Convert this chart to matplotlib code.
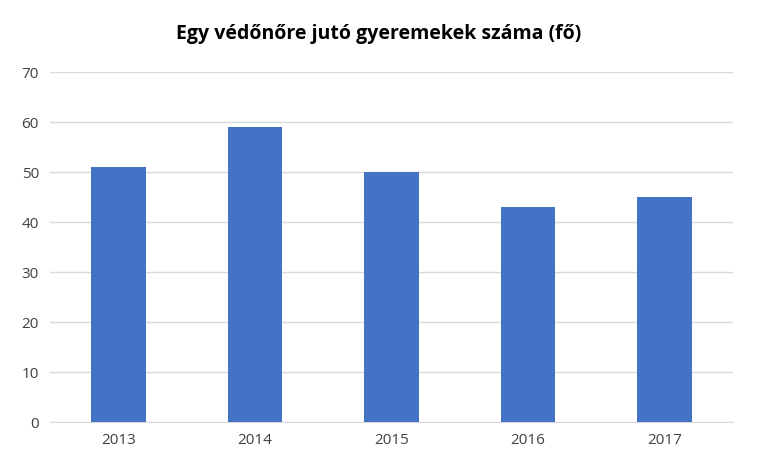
import matplotlib
matplotlib.use("Agg")
import matplotlib.pyplot as plt

years = ["2013", "2014", "2015", "2016", "2017"]
values = [51, 59, 50, 43, 45]
yticks = [0, 10, 20, 30, 40, 50, 60, 70]

plt.rcParams['font.family'] = ['Open Sans', 'DejaVu Sans']
fig = plt.figure(figsize=(7.57, 4.75), dpi=100)
ax = fig.add_axes([50/757, 1-422/475, 683/757, 350/475])
x = range(len(years))
ax.bar(x, values, width=0.4, color="#4472C4", zorder=3)
ax.set_xlim(-0.5, len(years)-0.5)
ax.set_ylim(0, 70)
ax.set_yticks(yticks)
ax.set_xticks(list(x))
ax.set_xticklabels(years)
ax.grid(axis='y', color="#D9D9D9", linewidth=1, zorder=0)
for s in ['top', 'right', 'left']:
    ax.spines[s].set_visible(False)
ax.spines['bottom'].set_color("#D9D9D9")
ax.tick_params(axis='y', length=0, labelsize=11, colors="#404040", pad=8)
ax.tick_params(axis='x', length=0, labelsize=11, colors="#404040", pad=8)
fig.text(0.5, 1-34/475, "Egy védőnőre jutó gyeremekek száma (fő)", ha='center', va='center',
         fontsize=14, fontweight='bold', color='black')
fig.savefig("out.png", dpi=100)
